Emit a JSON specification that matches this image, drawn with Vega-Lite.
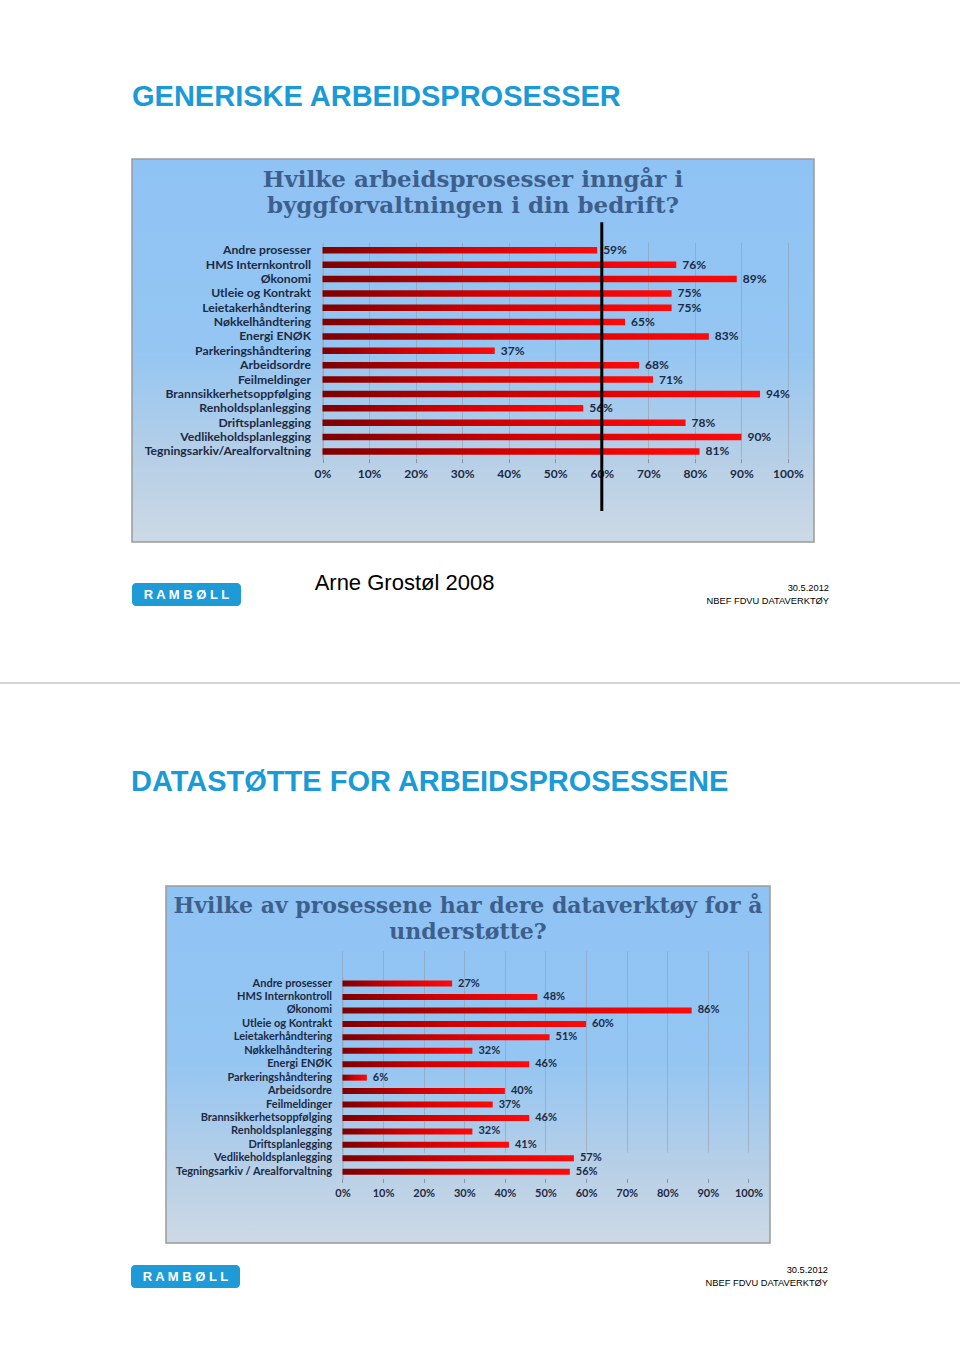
{
  "$schema": "https://vega.github.io/schema/vega-lite/v6.json",
  "autosize": {"type": "pad"},
  "padding": {"left": 0, "top": 83, "right": 0, "bottom": 0},
  "background": "white",
  "config": {"view": {"stroke": null}, "font": "Lato"},
  "datasets": {
    "s1": [
      {"prosess": "Andre prosesser", "andel": 0.59},
      {"prosess": "HMS Internkontroll", "andel": 0.76},
      {"prosess": "Økonomi", "andel": 0.89},
      {"prosess": "Utleie og Kontrakt", "andel": 0.75},
      {"prosess": "Leietakerhåndtering", "andel": 0.75},
      {"prosess": "Nøkkelhåndtering", "andel": 0.65},
      {"prosess": "Energi ENØK", "andel": 0.83},
      {"prosess": "Parkeringshåndtering", "andel": 0.37},
      {"prosess": "Arbeidsordre", "andel": 0.68},
      {"prosess": "Feilmeldinger", "andel": 0.71},
      {"prosess": "Brannsikkerhetsoppfølging", "andel": 0.94},
      {"prosess": "Renholdsplanlegging", "andel": 0.56},
      {"prosess": "Driftsplanlegging", "andel": 0.78},
      {"prosess": "Vedlikeholdsplanlegging", "andel": 0.90},
      {"prosess": "Tegningsarkiv/Arealforvaltning", "andel": 0.81}
    ],
    "s2": [
      {"prosess": "Andre prosesser", "andel": 0.27},
      {"prosess": "HMS Internkontroll", "andel": 0.48},
      {"prosess": "Økonomi", "andel": 0.86},
      {"prosess": "Utleie og Kontrakt", "andel": 0.60},
      {"prosess": "Leietakerhåndtering", "andel": 0.51},
      {"prosess": "Nøkkelhåndtering", "andel": 0.32},
      {"prosess": "Energi ENØK", "andel": 0.46},
      {"prosess": "Parkeringshåndtering", "andel": 0.06},
      {"prosess": "Arbeidsordre", "andel": 0.40},
      {"prosess": "Feilmeldinger", "andel": 0.37},
      {"prosess": "Brannsikkerhetsoppfølging", "andel": 0.46},
      {"prosess": "Renholdsplanlegging", "andel": 0.32},
      {"prosess": "Driftsplanlegging", "andel": 0.41},
      {"prosess": "Vedlikeholdsplanlegging", "andel": 0.57},
      {"prosess": "Tegningsarkiv / Arealforvaltning", "andel": 0.56}
    ]
  },
  "spacing": 75,
  "vconcat": [
    {
      "spacing": 0,
      "hconcat": [
        {"width": 131, "height": 1, "data": {"values": []}, "mark": "point", "encoding": {}},
        {
          "title": {"text": "GENERISKE ARBEIDSPROSESSER", "anchor": "start", "frame": "group", "font": "Liberation Sans", "fontSize": 29, "fontWeight": "bold", "color": "#1a9ad6", "offset": 46},
          "spacing": 29,
          "vconcat": [
            {
              "width": 682,
              "height": 383,
              "view": {"fill": {"gradient": "linear", "x1": 0, "y1": 0, "x2": 0, "y2": 1, "stops": [{"offset": 0, "color": "#8fc3f5"}, {"offset": 0.5, "color": "#95c6f2"}, {"offset": 0.78, "color": "#b6cfe7"}, {"offset": 1, "color": "#cdd9e5"}]}, "stroke": "#9a9a9a", "strokeWidth": 1.5},
              "title": {"text": ["Hvilke arbeidsprosesser inngår i", "byggforvaltningen i din bedrift?"], "anchor": "middle", "font": "DejaVu Serif", "fontSize": 23, "fontWeight": "bold", "color": "#3e5f8c", "lineHeight": 26.5, "offset": -59},
              "resolve": {"scale": {"y": "independent"}, "axis": {"y": "independent"}},
              "layer": [
                {
                  "data": {"name": "s1"},
                  "encoding": {
                    "y": {"field": "prosess", "type": "nominal", "sort": null, "scale": {"range": [84.1, 299.6], "paddingInner": 0, "paddingOuter": 0}, "axis": {"orient": "left", "offset": -190.5, "title": null, "domain": true, "domainColor": "#9ba6b6", "ticks": false, "labelPadding": 12, "labelFont": "Lato", "labelFontSize": 12.2, "labelFontWeight": "bold", "labelColor": "#1c2a44"}},
                    "x": {"field": "andel", "type": "quantitative", "scale": {"domain": [-0.4093, 1.0559], "nice": false, "zero": false}, "axis": {"orient": "bottom", "offset": -83.4, "values": [0, 0.1, 0.2, 0.3, 0.4, 0.5, 0.6, 0.7, 0.8, 0.9, 1], "format": ".0%", "title": null, "domain": false, "ticks": true, "tickSize": 4, "tickColor": "#8a94a6", "grid": true, "gridColor": "#8f9aab", "gridOpacity": 0.55, "labelPadding": 6, "labelFont": "Lato", "labelFontSize": 12, "labelFontWeight": "bold", "labelColor": "#1c2a44"}}
                  },
                  "layer": [
                    {"mark": {"type": "bar", "size": 6.5, "color": {"gradient": "linear", "x1": 0, "y1": 0, "x2": 1, "y2": 0, "stops": [{"offset": 0, "color": "#7d0000"}, {"offset": 0.45, "color": "#d00000"}, {"offset": 1, "color": "#ff0a0a"}]}}},
                    {"mark": {"type": "text", "align": "left", "baseline": "middle", "dx": 6, "font": "Lato", "fontSize": 12, "fontWeight": "bold", "color": "#1c2a44"}, "encoding": {"text": {"field": "andel", "type": "quantitative", "format": ".0%"}}}
                  ]
                },
                {
                  "data": {"values": [{"markering": 0.6}]},
                  "mark": {"type": "rule", "color": "#000000", "strokeWidth": 3},
                  "encoding": {
                    "x": {"field": "markering", "type": "quantitative"},
                    "y": {"datum": 0.835, "type": "quantitative", "scale": {"domain": [0, 1]}, "axis": null},
                    "y2": {"datum": 0.081}
                  }
                }
              ]
            },
            {
              "spacing": 0,
              "hconcat": [
                {"width": 109, "height": 23, "view": {"fill": "#1e9bd7", "cornerRadius": 4, "stroke": null}, "data": {"values": [{"logo": "R A M B Ø L L"}]}, "mark": {"type": "text", "color": "white", "font": "Liberation Sans", "fontWeight": "bold", "fontSize": 13, "baseline": "middle"}, "encoding": {"text": {"field": "logo"}}},
                {"width": 327, "height": 14, "data": {"values": [{"t": "Arne Grostøl 2008"}]}, "mark": {"type": "text", "color": "black", "font": "Liberation Sans", "fontSize": 22, "baseline": "alphabetic"}, "encoding": {"text": {"field": "t"}}},
                {"width": 261, "height": 23, "data": {"values": [{"t": "30.5.2012\nNBEF FDVU DATAVERKTØY"}]}, "mark": {"type": "text", "color": "black", "font": "Liberation Sans", "fontSize": 9.3, "lineHeight": 13, "lineBreak": "\n", "align": "right", "baseline": "middle", "dy": -6.5, "x": "width"}, "encoding": {"text": {"field": "t"}}}
              ]
            }
          ]
        }
      ]
    },
    {"width": 960, "height": 11, "view": {"fill": {"gradient": "linear", "x1": 0, "y1": 0, "x2": 0, "y2": 1, "stops": [{"offset": 0, "color": "#d6d6d6"}, {"offset": 0.17, "color": "#d6d6d6"}, {"offset": 0.17, "color": "#ffffff"}, {"offset": 1, "color": "#ffffff"}]}, "stroke": null}, "data": {"values": []}, "mark": "point", "encoding": {}},
    {
      "spacing": 0,
      "hconcat": [
        {"width": 131, "height": 1, "data": {"values": []}, "mark": "point", "encoding": {}},
        {
          "title": {"text": "DATASTØTTE FOR ARBEIDSPROSESSENE", "anchor": "start", "frame": "group", "font": "Liberation Sans", "fontSize": 29, "fontWeight": "bold", "color": "#1a9ad6", "offset": 88},
          "spacing": 21,
          "vconcat": [
            {
              "spacing": 0,
              "hconcat": [
                {"width": 34, "height": 1, "data": {"values": []}, "mark": "point", "encoding": {}},
                {
                  "width": 604,
                  "height": 357,
                  "data": {"name": "s2"},
                  "view": {"fill": {"gradient": "linear", "x1": 0, "y1": 0, "x2": 0, "y2": 1, "stops": [{"offset": 0, "color": "#8fc3f5"}, {"offset": 0.5, "color": "#95c6f2"}, {"offset": 0.78, "color": "#b6cfe7"}, {"offset": 1, "color": "#cdd9e5"}]}, "stroke": "#9a9a9a", "strokeWidth": 1.5},
                  "title": {"text": ["Hvilke av prosessene har dere dataverktøy for å", "understøtte?"], "anchor": "middle", "font": "DejaVu Serif", "fontSize": 22, "fontWeight": "bold", "color": "#3e5f8c", "lineHeight": 25.6, "offset": -58},
                  "encoding": {
                    "y": {"field": "prosess", "type": "nominal", "sort": null, "scale": {"range": [90.9, 292.4], "paddingInner": 0, "paddingOuter": 0}, "axis": {"orient": "left", "offset": -176.5, "title": null, "domain": true, "domainColor": "#9ba6b6", "ticks": false, "labelPadding": 11, "labelFont": "Lato", "labelFontSize": 11, "labelFontWeight": "bold", "labelColor": "#1c2a44"}},
                    "x": {"field": "andel", "type": "quantitative", "scale": {"domain": [-0.4347, 1.053], "nice": false, "zero": false}, "axis": {"orient": "bottom", "offset": -64.6, "values": [0, 0.1, 0.2, 0.3, 0.4, 0.5, 0.6, 0.7, 0.8, 0.9, 1], "format": ".0%", "title": null, "domain": false, "ticks": true, "tickSize": 4, "tickColor": "#8a94a6", "grid": true, "gridColor": "#8f9aab", "gridOpacity": 0.55, "labelPadding": 5, "labelFont": "Lato", "labelFontSize": 11, "labelFontWeight": "bold", "labelColor": "#1c2a44"}}
                  },
                  "layer": [
                    {"mark": {"type": "bar", "size": 6, "color": {"gradient": "linear", "x1": 0, "y1": 0, "x2": 1, "y2": 0, "stops": [{"offset": 0, "color": "#7d0000"}, {"offset": 0.45, "color": "#d00000"}, {"offset": 1, "color": "#ff0a0a"}]}}},
                    {"mark": {"type": "text", "align": "left", "baseline": "middle", "dx": 6, "font": "Lato", "fontSize": 11, "fontWeight": "bold", "color": "#1c2a44"}, "encoding": {"text": {"field": "andel", "type": "quantitative", "format": ".0%"}}}
                  ]
                }
              ]
            },
            {
              "spacing": 0,
              "hconcat": [
                {"width": 109, "height": 23, "view": {"fill": "#1e9bd7", "cornerRadius": 4, "stroke": null}, "data": {"values": [{"logo": "R A M B Ø L L"}]}, "mark": {"type": "text", "color": "white", "font": "Liberation Sans", "fontWeight": "bold", "fontSize": 13, "baseline": "middle"}, "encoding": {"text": {"field": "logo"}}},
                {"width": 588, "height": 23, "data": {"values": [{"t": "30.5.2012\nNBEF FDVU DATAVERKTØY"}]}, "mark": {"type": "text", "color": "black", "font": "Liberation Sans", "fontSize": 9.3, "lineHeight": 13, "lineBreak": "\n", "align": "right", "baseline": "middle", "dy": -6.5, "x": "width"}, "encoding": {"text": {"field": "t"}}}
              ]
            }
          ]
        }
      ]
    }
  ]
}
